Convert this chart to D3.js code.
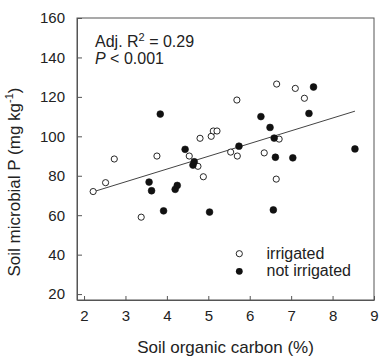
<!DOCTYPE html>
<html><head><meta charset="utf-8">
<script src="https://cdn.jsdelivr.net/npm/d3@7"></script>
<style>body{margin:0;background:#fff}svg{display:block;font-family:"Liberation Sans",Arial,sans-serif}</style>
</head><body><svg id="c" width="379" height="357"></svg>
<script>
const irrigatedX = [2.22,2.52,2.73,3.38,3.76,4.54,4.75,4.80,4.88,5.07,5.12,5.21,5.54,5.69,5.70,6.35,6.64,6.65,6.71,7.10,7.32];
const irrigatedY = [72,76.5,88.5,59,90,90,84.8,99,79.5,100,102.7,102.7,92,118.4,90,91.6,78.3,126.5,98.6,124.3,119.3];
const notIrrigatedX = [3.57,3.63,3.84,3.92,4.20,4.25,4.44,4.63,4.66,5.03,5.74,6.27,6.49,6.57,6.59,6.62,7.04,7.43,7.54,8.54];
const notIrrigatedY = [76.8,72.4,111.3,62.2,73.1,75.1,93.4,85.4,87.1,61.6,95,110,104.5,62.7,99.1,89.4,89.1,111.6,125,93.6];
const fitX = [2.22, 8.54];
const fitCoef = {intercept: 57.5, slope: 6.47};
const xTicks = [2,3,4,5,6,7,8,9];
const yTicks = [20,40,60,80,100,120,140,160];
const legendLabels = ["irrigated","not irrigated"];

const svg = d3.select("#c");
const L=77,R=374,T=18,B=300;
const x = d3.scaleLinear().domain([1.83,9]).range([L,R]);
const y = d3.scaleLinear().domain([17,160]).range([B,T]);
const ink="#222", axc="#555";

// frame
svg.append("rect").attr("x",L).attr("y",T).attr("width",R-L).attr("height",B-T)
  .attr("fill","none").attr("stroke",axc).attr("stroke-width",1);

const xa = svg.append("g").attr("transform",`translate(0,${B})`)
  .call(d3.axisBottom(x).tickValues(xTicks).tickFormat(d3.format("d")).tickSizeInner(-4).tickSizeOuter(0).tickPadding(10));
const ya = svg.append("g").attr("transform",`translate(${L},0)`)
  .call(d3.axisLeft(y).tickValues(yTicks).tickFormat(d3.format("d")).tickSizeInner(-5).tickSizeOuter(0).tickPadding(12));
[xa,ya].forEach(g=>{
  g.select(".domain").attr("stroke",axc);
  g.selectAll(".tick line").attr("stroke",axc);
  g.selectAll(".tick text").attr("fill",ink).style("font-size","15px").style("font-family","Liberation Sans, Arial, sans-serif");
});

// regression line
svg.append("line")
  .attr("x1",x(fitX[0])).attr("y1",y(fitCoef.intercept+fitCoef.slope*fitX[0]))
  .attr("x2",x(fitX[1])).attr("y2",y(fitCoef.intercept+fitCoef.slope*fitX[1]))
  .attr("stroke","#444").attr("stroke-width",1);

// points
const open = irrigatedX.map((v,i)=>({x:v,y:irrigatedY[i]}));
const filled = notIrrigatedX.map((v,i)=>({x:v,y:notIrrigatedY[i]}));
svg.append("g").selectAll("circle").data(open).join("circle")
  .attr("cx",d=>x(d.x)).attr("cy",d=>y(d.y)).attr("r",3.1)
  .attr("fill","#fff").attr("stroke","#111").attr("stroke-width",0.9);
svg.append("g").selectAll("circle").data(filled).join("circle")
  .attr("cx",d=>x(d.x)).attr("cy",d=>y(d.y)).attr("r",3.4)
  .attr("fill","#111").attr("stroke","#111").attr("stroke-width",0.6);

// annotation
const a1 = svg.append("text").attr("x",95).attr("y",46.5).attr("fill",ink).style("font-size","16px");
a1.append("tspan").text("Adj. R");
a1.append("tspan").attr("dy",-6).style("font-size","11px").text("2");
a1.append("tspan").attr("dy",6).text(" = 0.29");
const a2 = svg.append("text").attr("x",95).attr("y",64).attr("fill",ink).style("font-size","16px");
a2.append("tspan").style("font-style","italic").text("P");
a2.append("tspan").text(" < 0.001");

// legend
const lg = svg.append("g");
lg.append("circle").attr("cx",239.3).attr("cy",253.7).attr("r",3.1).attr("fill","#fff").attr("stroke","#111").attr("stroke-width",0.9);
lg.append("circle").attr("cx",239.3).attr("cy",271.3).attr("r",3.4).attr("fill","#111");
lg.append("text").attr("x",266.5).attr("y",259.3).attr("fill",ink).style("font-size","16px").text(legendLabels[0]);
lg.append("text").attr("x",266.5).attr("y",276).attr("fill",ink).style("font-size","16px").text(legendLabels[1]);

// axis titles
svg.append("text").attr("x",(L+R)/2).attr("y",353).attr("text-anchor","middle").attr("fill",ink)
  .style("font-size","17px").text("Soil organic carbon (%)");
const yt = svg.append("text").attr("transform","translate(20,182) rotate(-90)").attr("text-anchor","middle").attr("fill",ink).style("font-size","17px");
yt.append("tspan").text("Soil microbial P (mg kg");
yt.append("tspan").attr("dy",-7).style("font-size","11px").text("-1");
yt.append("tspan").attr("dy",7).text(")");
</script></body></html>
